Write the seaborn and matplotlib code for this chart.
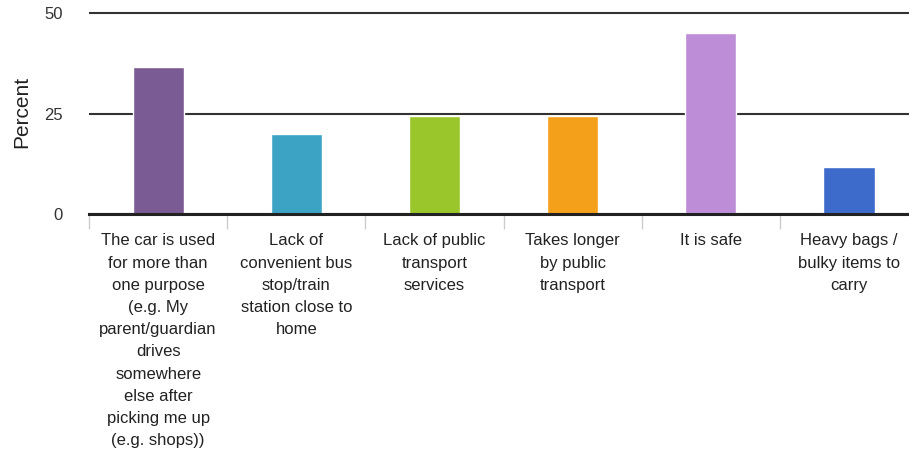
import matplotlib
matplotlib.use("Agg")
import matplotlib.pyplot as plt
import seaborn as sns
import pandas as pd

sns.set_theme(style="white")
plt.rcParams["font.family"] = ["Liberation Sans", "DejaVu Sans"]

categories = [
    "The car is used\nfor more than\none purpose\n(e.g. My\nparent/guardian\ndrives\nsomewhere\nelse after\npicking me up\n(e.g. shops))",
    "Lack of\nconvenient bus\nstop/train\nstation close to\nhome",
    "Lack of public\ntransport\nservices",
    "Takes longer\nby public\ntransport",
    "It is safe",
    "Heavy bags /\nbulky items to\ncarry",
]
percent = [36.5, 20.0, 24.5, 24.5, 45.0, 11.7]
colors = ["#7b5b94", "#3ca3c5", "#9ac62b", "#f5a01b", "#bd8dd7", "#3d6bcb"]
y_ticks = [0, 25, 50]

df = pd.DataFrame({"reason": categories, "percent": percent})

fig = plt.figure(figsize=(9.09, 4.51), dpi=100)
ax = fig.add_axes([0.098, 0.5255, 0.912, 0.4545])

sns.barplot(data=df, x="reason", y="percent", hue="reason", palette=colors,
            legend=False, width=0.37, saturation=1, ax=ax, zorder=3)

ax.set_xlim(-0.5, len(categories) - 0.5)
ax.set_ylim(0, 51)
ax.set_yticks(y_ticks)
ax.set_yticklabels([str(t) for t in y_ticks], fontsize=12, color="#333333")
ax.yaxis.grid(True, color="#333333", linewidth=1.5, zorder=0)
ax.xaxis.grid(False)
ax.set_axisbelow(True)

for side in ["top", "right", "left"]:
    ax.spines[side].set_visible(False)
ax.spines["bottom"].set_color("#222222")
ax.spines["bottom"].set_linewidth(2.2)
ax.spines["bottom"].set_zorder(4)

ax.set_xlabel("")
ax.set_ylabel("Percent", fontsize=15, color="#222222", labelpad=9)
ax.tick_params(axis="y", length=0, pad=19)
ax.tick_params(axis="x", which="major", length=0, pad=14)
ax.set_xticks(range(len(categories)))
ax.set_xticklabels(categories, fontsize=12, color="#222222", linespacing=1.6)

# light separators between category slots below the axis
ax.set_xticks([i - 0.5 for i in range(len(categories) + 1)], minor=True)
ax.tick_params(axis="x", which="minor", direction="out", length=11,
               width=1.0, color="#cccccc", bottom=True)

fig.savefig("out.png", dpi=100)
